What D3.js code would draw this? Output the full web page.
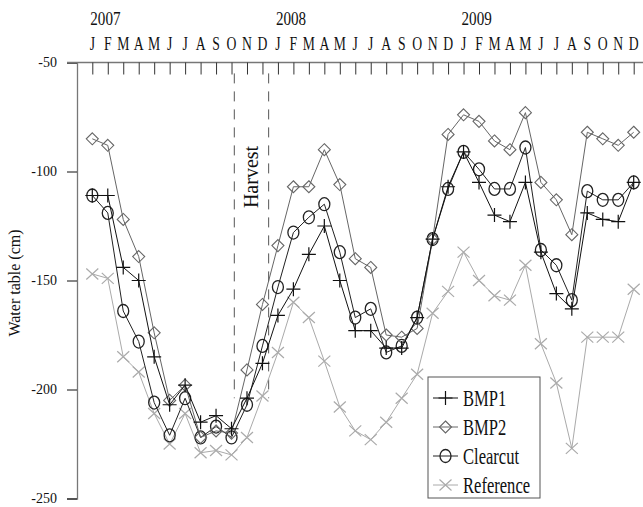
<!DOCTYPE html>
<html>
<head>
<meta charset="utf-8">
<script src="https://cdn.jsdelivr.net/npm/d3@7"></script>
<style>
  html, body { margin: 0; padding: 0; background: #fff; }
  svg { display: block; }
  text { font-family: "Liberation Serif", "Times New Roman", serif; fill: #111; }
</style>
</head>
<body>
<svg id="chart" width="643" height="507"></svg>
<script>
// ---- data ----
const monthLabels = ["J","F","M","A","M","J","J","A","S","O","N","D",
                     "J","F","M","A","M","J","J","A","S","O","N","D",
                     "J","F","M","A","M","J","J","A","S","O","N","D"];
const yearLabels = ["2007", "2008", "2009"];
const yTicks = [-50, -100, -150, -200, -250];
const harvestMonths = [9.18, 11.4];

const bmp1 = [-111,-111,-144,-150,-185,-207,-198,-215,-212,-218,-204,-188,
              -166,-154,-138,-125,-150,-173,-173,-181,-181,-167,-131,-107,
              -91,-105,-120,-123,-105,-137,-156,-163,-119,-122,-123,-105];
const bmp2 = [-85,-88,-122,-139,-174,-205,-198,-222,-219,-220,-191,-161,
              -134,-107,-107,-90,-106,-140,-144,-175,-176,-172,-131,-83,
              -74,-77,-86,-90,-73,-105,-113,-129,-82,-85,-88,-82];
const clearcut = [-111,-119,-164,-178,-206,-221,-204,-222,-217,-222,-207,-180,
                  -153,-128,-121,-115,-137,-167,-163,-183,-180,-167,-131,-108,
                  -91,-99,-108,-108,-89,-136,-143,-159,-109,-113,-113,-105];
const reference = [-147,-149,-185,-192,-211,-225,-211,-229,-228,-230,-222,-203,
                   -183,-160,-167,-187,-208,-219,-223,-215,-204,-193,-165,-155,
                   -137,-150,-157,-159,-143,-179,-197,-227,-176,-176,-176,-154];
const seriesNames = ["BMP1", "BMP2", "Clearcut", "Reference"];

// ---- chart ----
const svg = d3.select("#chart");
const x = d3.scaleLinear().domain([0, 35]).range([92.3, 633.7]);
const y = d3.scaleLinear().domain([-250, -50]).range([498.5, 62.5]);
const axisX = 77;

// y axis
const yAxis = d3.axisLeft(y).tickValues(yTicks).tickSize(10).tickPadding(10).tickFormat(d => String(d));
const gy = svg.append("g").attr("transform", `translate(${axisX},0)`).call(yAxis);
gy.select(".domain").attr("stroke", "#777").attr("stroke-width", 1.3);
gy.selectAll(".tick line").attr("stroke", "#111");
gy.selectAll(".tick text").attr("font-size", 14).attr("fill", "#111")
  .attr("transform", "scale(1,1)");

// top axis line
svg.append("line").attr("x1", 67).attr("x2", 643).attr("y1", y(-50)).attr("y2", y(-50))
   .attr("stroke", "#777").attr("stroke-width", 1.3);
// month ticks
const months = d3.range(monthLabels.length);
const xAxis = d3.axisBottom(x).tickValues(months).tickSize(12).tickFormat("");
const gx = svg.append("g").attr("transform", `translate(0,${y(-50)})`).call(xAxis);
gx.select(".domain").remove();
gx.selectAll(".tick line").attr("stroke", "#333");

// month labels
svg.append("g").selectAll("text").data(months).join("text")
  .attr("transform", d => `translate(${x(d)},50) scale(0.72,1)`)
  .attr("text-anchor", "middle").attr("font-size", 19).text(d => monthLabels[d]);
// year labels
svg.append("g").selectAll("text").data(yearLabels).join("text")
  .attr("transform", (d, i) => `translate(${x(i * 12) - 2},25) scale(0.84,1)`)
  .attr("font-size", 18).text(d => d);

// y label
svg.append("text").attr("transform", "translate(20,283) rotate(-90)")
  .attr("text-anchor", "middle").attr("font-size", 16).text("Water table (cm)");

// harvest lines
svg.append("g").selectAll("line").data(harvestMonths).join("line")
  .attr("x1", d => x(d)).attr("x2", d => x(d))
  .attr("y1", y(-55)).attr("y2", y(-204))
  .attr("stroke", "#555").attr("stroke-width", 1).attr("stroke-dasharray", "10,8");
svg.append("text").attr("transform", `translate(${(x(harvestMonths[0]) + x(harvestMonths[1])) / 2 + 7},177) rotate(-90)`)
  .attr("text-anchor", "middle").attr("font-size", 20).attr("fill", "#333").text("Harvest");

// series
const styles = {
  BMP1: { data: bmp1, stroke: "#111", marker: "plus" },
  BMP2: { data: bmp2, stroke: "#666", marker: "diamond" },
  Clearcut: { data: clearcut, stroke: "#222", marker: "circle" },
  Reference: { data: reference, stroke: "#aaa", marker: "cross" }
};
const line = d3.line().x((d, i) => x(i)).y(d => y(d));

function drawMarker(g, type, color) {
  if (type === "plus") {
    g.append("path").attr("d", "M-7,0H7M0,-7V7").attr("stroke", color).attr("stroke-width", 1.2).attr("fill", "none");
  } else if (type === "diamond") {
    g.append("path").attr("d", "M0,-6L6,0L0,6L-6,0Z").attr("stroke", color).attr("stroke-width", 1.1).attr("fill", "none");
  } else if (type === "circle") {
    g.append("ellipse").attr("rx", 5.5).attr("ry", 6.5).attr("stroke", color).attr("stroke-width", 1.3).attr("fill", "none");
  } else if (type === "cross") {
    g.append("path").attr("d", "M-6,-5.5L6,5.5M-6,5.5L6,-5.5").attr("stroke", color).attr("stroke-width", 1.2).attr("fill", "none");
  }
}

["Reference", "Clearcut", "BMP2", "BMP1"].forEach(name => {
  const s = styles[name];
  const g = svg.append("g");
  g.append("path").datum(s.data).attr("d", line).attr("fill", "none")
    .attr("stroke", s.stroke).attr("stroke-width", 1);
  g.selectAll("g.m").data(s.data).join("g").attr("class", "m")
    .attr("transform", (d, i) => `translate(${x(i)},${y(d)})`)
    .each(function () { drawMarker(d3.select(this), s.marker, s.stroke); });
});

// legend
const lg = svg.append("g");
lg.append("rect").attr("x", 428).attr("y", 377).attr("width", 112).attr("height", 121)
  .attr("fill", "#fff").attr("stroke", "#555").attr("stroke-width", 1);
seriesNames.forEach((name, i) => {
  const s = styles[name];
  const yy = 398 + i * 29;
  const e = lg.append("g").attr("transform", `translate(0,${yy})`);
  e.append("line").attr("x1", 433).attr("x2", 458).attr("stroke", s.stroke).attr("stroke-width", 1);
  drawMarker(e.append("g").attr("transform", "translate(445.5,0)"), s.marker, s.stroke);
  e.append("text").attr("transform", "translate(463,8) scale(0.72,1)")
    .attr("font-size", 23).text(name);
});
</script>
</body>
</html>
